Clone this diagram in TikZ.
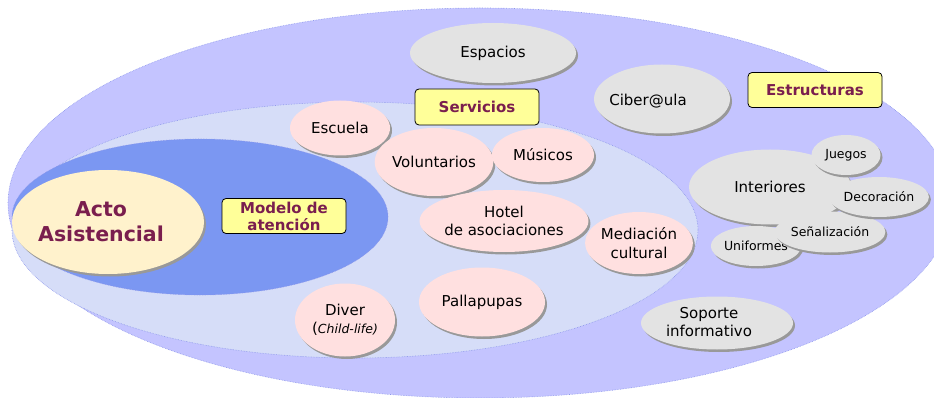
\documentclass[tikz,border=0pt]{standalone}
\usepackage{fontspec}
\setmainfont{DejaVu Sans}
\usetikzlibrary{shapes.geometric,shadows}
\definecolor{lavout}{RGB}{196,196,255}
\definecolor{lavmid}{RGB}{214,221,248}
\definecolor{bluein}{RGB}{123,151,242}
\definecolor{edgeblue}{RGB}{140,150,235}
\definecolor{cream}{RGB}{255,242,204}
\definecolor{rosef}{RGB}{255,224,224}
\definecolor{greyf}{RGB}{227,227,227}
\definecolor{tagyel}{RGB}{255,255,153}
\definecolor{maroon}{RGB}{122,30,78}
\tikzset{
  zone/.style={ellipse,inner sep=0pt,draw=edgeblue,densely dotted,line width=0.6pt},
  sz/.style 2 args={minimum width=#1pt,minimum height=#2pt},
  shd/.style={drop shadow={shadow xshift=2pt,shadow yshift=-2.5pt,fill=black!40,opacity=1}},
  rs/.style={ellipse,inner sep=0pt,fill=rosef,shd,font=\lbl,align=center,text=black},
  gr/.style={ellipse,inner sep=0pt,fill=greyf,shd,font=\lbl,align=center,text=black},
  grs/.style={gr,font=\sml},
  tag/.style={rectangle,rounded corners=4pt,draw=black,line width=0.8pt,fill=tagyel,
    font=\tagfont\bfseries,text=maroon,align=center,inner sep=0pt}
}
\newcommand{\lbl}{\fontsize{15}{18.5}\selectfont}
\newcommand{\sml}{\fontsize{12.5}{15}\selectfont}
\newcommand{\tagfont}{\fontsize{15}{17}\selectfont}
\newcommand{\actofont}{\fontsize{20.5}{25}\selectfont}

\begin{document}
\begin{tikzpicture}[x=1pt,y=-1pt]
\useasboundingbox (0,0) rectangle (934,398);
\clip (0,0) rectangle (934,398);
\node[zone,fill=lavout,sz={944}{390}] (outer) at (480,203) {};
\node[zone,fill=lavmid,sz={686}{256}] (servarea) at (355,230) {};
\node[zone,fill=bluein,sz={376}{156}] (modarea) at (200,217) {};
\node[ellipse,inner sep=0pt,fill=cream,shd,sz={192}{104}] (acto) at (108,222) {};
\node[font=\actofont\bfseries,text=maroon,align=center,inner sep=0pt] (actotxt) at (101,222) {Acto\\Asistencial};
\node[tag,sz={124}{35}] (modelo) at (284,216) {Modelo de\\atención};
\node[tag,sz={124}{36}] (servicios) at (477,107) {Servicios};
\node[tag,sz={134}{35}] (estructuras) at (815,90) {Estructuras};
% servicios
\node[rs,sz={100}{55}] (escuela) at (340,128) {Escuela};
\node[rs,sz={112}{68}] (voluntarios) at (434,162) {Voluntarios};
\node[rs,sz={102}{54}] (musicos) at (543,155) {Músicos};
\node[rs,sz={152}{62}] (hotel) at (504,221) {Hotel\\de asociaciones};
\node[rs,sz={100}{62}] (mediacion) at (639,243) {Mediación\\cultural};
\node[rs,sz={126}{69}] (pallapupas) at (482,302) {Pallapupas};
\node[rs,sz={100}{73}] (diver) at (345,320) {Diver\\({\sml\itshape Child-life)}};
% estructuras
\node[gr,sz={166}{60}] (espacios) at (493,53) {Espacios};
\node[gr,sz={136}{69}] (ciberula) at (662,99) {};
\node[font=\lbl,inner sep=0pt] (cibertxt) at (648,101) {Ciber@ula};
\node[gr,sz={162}{75}] (interiores) at (770,187) {Interiores};
\node[grs,sz={72}{40}] (uniformes) at (756,246) {Uniformes};
\node[grs,sz={87}{41}] (senal) at (830,232) {Señalización};
\node[grs,sz={85}{40}] (decoracion) at (879,197) {Decoración};
\node[grs,sz={69}{40}] (juegos) at (846,155) {Juegos};
\node[gr,sz={152}{53}] (soporte) at (717,323) {};
\node[font=\lbl,align=center,inner sep=0pt] (soportetxt) at (709,322) {Soporte\\informativo};
\end{tikzpicture}
\end{document}
